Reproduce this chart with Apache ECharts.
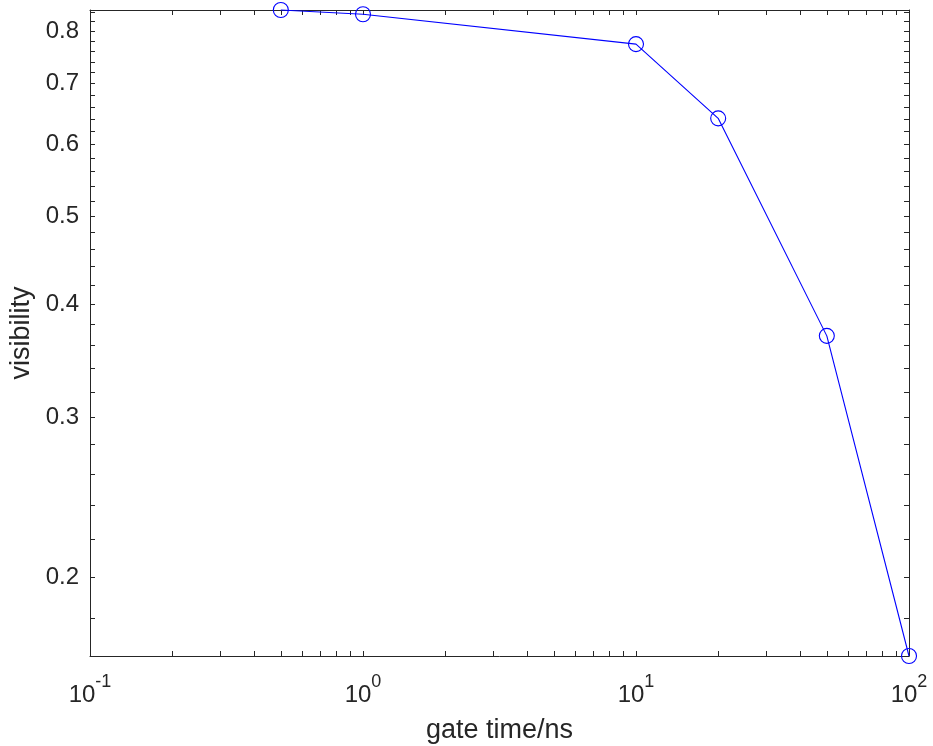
<!DOCTYPE html>
<html>
<head>
<meta charset="utf-8">
<script src="https://cdn.jsdelivr.net/npm/echarts@6/dist/echarts.min.js"></script>
<style>
  html, body { margin: 0; padding: 0; background: #fff; }
  #chart { width: 933px; height: 746px; }
</style>
</head>
<body>
<div id="chart"></div>
<script>
// gate time (ns) vs visibility, log-log
const gateTime = [0.5, 1, 10, 20, 50, 100]
const visibility = [0.844, 0.835, 0.774, 0.641, 0.369, 0.1637]

const xMajorTicks = [0.1, 1, 10, 100]
const xMinorTicks = [0.2, 0.3, 0.4, 0.5, 0.6, 0.7, 0.8, 0.9, 2, 3, 4, 5, 6, 7, 8, 9, 20, 30, 40, 50, 60, 70, 80, 90]
const yMajorTicks = [0.2, 0.3, 0.4, 0.5, 0.6, 0.7, 0.8]
const yMinorTicks = [0.18, 0.22, 0.24, 0.26, 0.28, 0.32, 0.34, 0.36, 0.38, 0.42, 0.44, 0.46, 0.48,
  0.52, 0.54, 0.56, 0.58, 0.62, 0.64, 0.66, 0.68, 0.72, 0.74, 0.76, 0.78, 0.82, 0.84]

const axisColor = '#262626'
const xMin = 0.1
const xMax = 100
const yMin = 0.1637
const yMax = 0.844

const xTicks = xMajorTicks.concat(xMinorTicks)
const yTicks = yMajorTicks.concat(yMinorTicks)

function xAxisDef(position, showLabel) {
  return {
    type: 'log',
    logBase: 10,
    position: position,
    min: xMin,
    max: xMax,
    name: showLabel ? 'gate time/ns' : '',
    nameLocation: 'middle',
    nameGap: 61,
    nameTextStyle: { fontFamily: 'Liberation Sans', fontSize: 27, color: axisColor },
    axisLine: { show: true, lineStyle: { color: axisColor, width: 1 } },
    axisTick: { show: true, inside: true, length: 5, customValues: xTicks, lineStyle: { color: axisColor } },
    splitLine: { show: false },
    axisLabel: {
      show: showLabel,
      margin: 17,
      customValues: xMajorTicks,
      formatter: v => '{b|10}{s|' + Math.round(Math.log10(v)) + '}',
      rich: {
        b: { fontFamily: 'Liberation Sans', fontSize: 24, color: axisColor, verticalAlign: 'bottom' },
        s: { fontFamily: 'Liberation Sans', fontSize: 18, color: axisColor, verticalAlign: 'top', padding: [0, 0, 16, 0] }
      }
    }
  }
}

function yAxisDef(position, showLabel) {
  return {
    type: 'log',
    logBase: 10,
    position: position,
    min: yMin,
    max: yMax,
    name: showLabel ? 'visibility' : '',
    nameLocation: 'middle',
    nameGap: 53,
    nameTextStyle: { fontFamily: 'Liberation Sans', fontSize: 27, color: axisColor },
    axisLine: { show: true, lineStyle: { color: axisColor, width: 1 } },
    axisTick: { show: true, inside: true, length: 5, customValues: yTicks, lineStyle: { color: axisColor } },
    splitLine: { show: false },
    axisLabel: {
      show: showLabel,
      margin: 11,
      customValues: yMajorTicks,
      formatter: v => v.toFixed(1),
      fontFamily: 'Liberation Sans',
      fontSize: 24,
      color: axisColor
    }
  }
}

const option = {
  animation: false,
  backgroundColor: '#fff',
  grid: { left: 90, right: 24, top: 10, bottom: 90, outerBoundsMode: 'none' },
  xAxis: [xAxisDef('bottom', true), xAxisDef('top', false)],
  yAxis: [yAxisDef('left', true), yAxisDef('right', false)],
  series: [{
    type: 'line',
    data: gateTime.map((t, i) => [t, visibility[i]]),
    symbol: 'circle',
    symbolSize: 15,
    lineStyle: { color: '#0000ff', width: 1.1 },
    itemStyle: { color: 'transparent', borderColor: '#0000ff', borderWidth: 1.1 },
    clip: false
  }]
}

const chart = echarts.init(document.getElementById('chart'))
chart.setOption(option)
</script>
</body>
</html>
